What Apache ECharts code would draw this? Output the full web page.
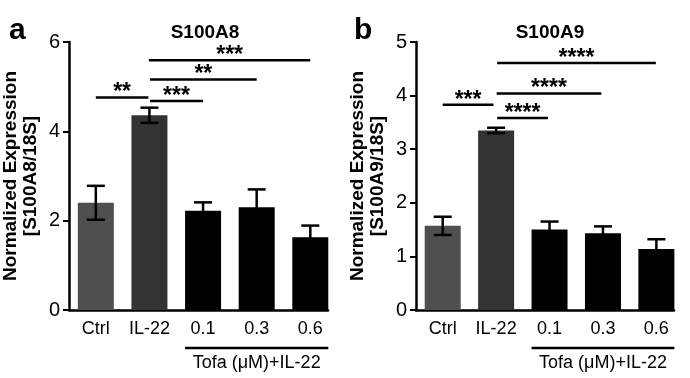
<!DOCTYPE html>
<html><head><meta charset="utf-8">
<script src="https://cdn.jsdelivr.net/npm/echarts@6/dist/echarts.min.js"></script>
<style>html,body{margin:0;padding:0;background:#fff}#c{width:690px;height:378px}</style>
</head><body><div id="c"></div>
<script>
const categories = ['Ctrl', 'IL-22', '0.1', '0.3', '0.6'];
const barColors = ['#4f4f4f', '#333333', '#000000', '#000000', '#000000'];
const a_values = [2.40, 4.36, 2.22, 2.30, 1.63];
const a_errors = [0.38, 0.17, 0.19, 0.40, 0.26];
const b_values = [1.57, 3.35, 1.50, 1.43, 1.14];
const b_errors = [0.17, 0.05, 0.15, 0.13, 0.18];
// significance brackets: [from, to, height]
const a_sig = [[0, 0.98, 4.76], [1.01, 2, 4.68], [1.01, 3, 5.16], [0.99, 4, 5.59]];
const a_stars = ['**', '***', '**', '***'];
const b_sig = [[0, 0.95, 3.83], [1.02, 1.97, 3.58], [1.01, 2.97, 4.04], [1.02, 3.99, 4.61]];
const b_stars = ['***', '****', '****', '****'];
const a_yTicks = {max: 6, interval: 2};
const b_yTicks = {max: 5, interval: 1};
const groupLabel = 'Tofa (\u03bcM)+IL-22';
const titles = ['S100A8', 'S100A9'];
const yNames = ['Normalized Expression\n[S100A8/18S]', 'Normalized Expression\n[S100A9/18S]'];

const FONT = 'Liberation Sans, Arial, sans-serif';
const chart = echarts.init(document.getElementById('c'), null, {renderer: 'canvas'});

function errRender(params, api) {
  const x = api.value(0), v = api.value(1), e = api.value(2);
  const t = api.coord([x, v + e]), b = api.coord([x, v - e]);
  const h = 9, st = {stroke: '#000', lineWidth: 2.5};
  return {type: 'group', children: [
    {type: 'line', shape: {x1: t[0], y1: t[1], x2: b[0], y2: b[1]}, style: st},
    {type: 'line', shape: {x1: t[0] - h, y1: t[1], x2: t[0] + h, y2: t[1]}, style: st},
    {type: 'line', shape: {x1: b[0] - h, y1: b[1], x2: b[0] + h, y2: b[1]}, style: st}
  ]};
}
function sigRender(stars) {
  return function (params, api) {
    const p1 = api.coord([api.value(0), api.value(2)]);
    const p2 = api.coord([api.value(1), api.value(2)]);
    return {type: 'group', children: [
      {type: 'line', shape: {x1: p1[0], y1: p1[1], x2: p2[0], y2: p2[1]}, style: {stroke: '#000', lineWidth: 2.5}},
      {type: 'text', x: (p1[0] + p2[0]) / 2, y: p1[1] + 7, style: {text: stars[params.dataIndex], fill: '#000', font: 'bold 23px ' + FONT, textAlign: 'center', textVerticalAlign: 'bottom'}}
    ]};
  };
}
function groupRender(params, api) {
  const p1 = api.coord([api.value(0), 0]);
  const p2 = api.coord([api.value(1), 0]);
  const x1 = p1[0] - 18, x2 = p2[0] + 18, y = p1[1] + 38;
  return {type: 'group', children: [
    {type: 'line', shape: {x1: x1, y1: y, x2: x2, y2: y}, style: {stroke: '#000', lineWidth: 2.5}},
    {type: 'text', x: (x1 + x2) / 2, y: y + 15, style: {text: groupLabel, fill: '#000', font: '18px ' + FONT, textAlign: 'center', textVerticalAlign: 'middle'}}
  ]};
}

const grids = [
  {left: 68, right: 362, top: 42, bottom: 68},
  {left: 416, right: 16, top: 42, bottom: 68}
];
const xAxes = [0, 1].map(i => ({
  type: 'value', gridIndex: i, min: -0.5, max: 4.33, interval: 0.5,
  axisLine: {show: true, onZero: false, lineStyle: {color: '#000', width: 2.5}},
  axisTick: {show: false}, splitLine: {show: false},
  axisLabel: {color: '#000', fontSize: 18, fontFamily: FONT, margin: 10,
    formatter: v => (Number.isInteger(v) && v >= 0 && v < categories.length) ? categories[v] : ''}
}));
const yAxes = [a_yTicks, b_yTicks].map((t, i) => ({
  type: 'value', gridIndex: i, min: 0, max: t.max, interval: t.interval,
  name: yNames[i], nameLocation: 'middle', nameRotate: 90, nameGap: 28,
  nameTextStyle: {color: '#000', fontSize: 19, fontWeight: 'bold', fontFamily: FONT, lineHeight: 20},
  axisLine: {show: true, onZero: false, lineStyle: {color: '#000', width: 2.5}},
  axisTick: {show: true, length: 6, lineStyle: {color: '#000', width: 2}},
  splitLine: {show: false},
  axisLabel: {color: '#000', fontSize: 20, fontFamily: FONT, margin: 9}
}));

const barData = vals => vals.map((v, i) => ({value: [i, v], itemStyle: {color: barColors[i]}}));
const errData = (vals, errs) => vals.map((v, i) => [i, v, errs[i]]);

chart.setOption({
  animation: false,
  backgroundColor: '#fff',
  title: [
    {text: titles[0], left: 200, top: 18, textAlign: 'center', textStyle: {fontSize: 19, fontWeight: 'bold', fontFamily: FONT, color: '#000'}},
    {text: titles[1], left: 545, top: 18, textAlign: 'center', textStyle: {fontSize: 19, fontWeight: 'bold', fontFamily: FONT, color: '#000'}},
    {text: 'a', left: 4, top: 11, textStyle: {fontSize: 30, fontWeight: 'bold', fontFamily: FONT, color: '#000'}},
    {text: 'b', left: 349, top: 11, textStyle: {fontSize: 30, fontWeight: 'bold', fontFamily: FONT, color: '#000'}}
  ],
  grid: grids,
  xAxis: xAxes,
  yAxis: yAxes,
  series: [
    {type: 'bar', xAxisIndex: 0, yAxisIndex: 0, barWidth: 36, data: barData(a_values)},
    {type: 'bar', xAxisIndex: 1, yAxisIndex: 1, barWidth: 36, data: barData(b_values)},
    {type: 'custom', xAxisIndex: 0, yAxisIndex: 0, renderItem: errRender, data: errData(a_values, a_errors), z: 5},
    {type: 'custom', xAxisIndex: 1, yAxisIndex: 1, renderItem: errRender, data: errData(b_values, b_errors), z: 5},
    {type: 'custom', xAxisIndex: 0, yAxisIndex: 0, renderItem: sigRender(a_stars), data: a_sig, clip: false},
    {type: 'custom', xAxisIndex: 1, yAxisIndex: 1, renderItem: sigRender(b_stars), data: b_sig, clip: false},
    {type: 'custom', xAxisIndex: 0, yAxisIndex: 0, renderItem: groupRender, data: [[2, 4]], clip: false},
    {type: 'custom', xAxisIndex: 1, yAxisIndex: 1, renderItem: groupRender, data: [[2, 4]], clip: false}
  ]
});
</script></body></html>
